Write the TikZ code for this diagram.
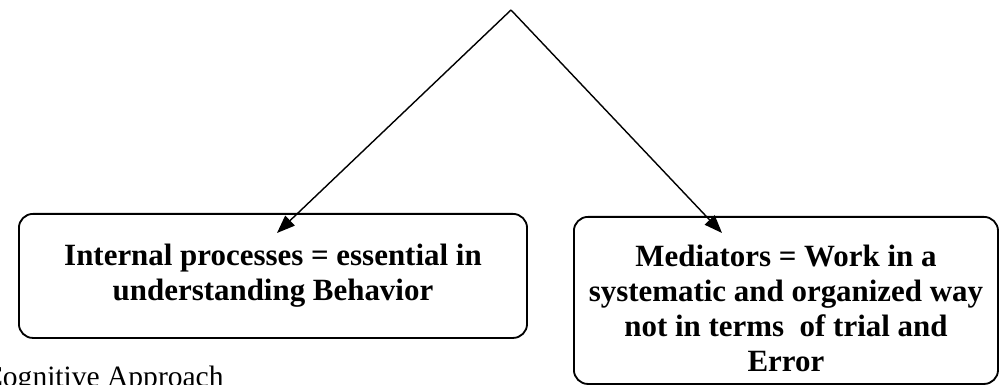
\documentclass[tikz,border=0pt]{standalone}
\usepackage{fontspec}
\setmainfont{Liberation Serif}
\usetikzlibrary{positioning, arrows.meta}

\begin{document}
\begin{tikzpicture}[
        x=0.025cm, y=-0.025cm,
        idea/.style={rectangle, draw=black, line width=1.3pt, rounded corners=0.35cm, align=center, font=\fontsize{22}{25}\selectfont\bfseries, inner sep=0pt},
        arrow/.style={-{Triangle[length=0.45cm, width=0.34cm]}, line width=1pt, black}
    ]
        \useasboundingbox (0,0) rectangle (1000,385);
        % Boxes
        \node[idea, minimum width=12.7cm, minimum height=3.1cm, anchor=north west] (internal) at (18,213) {Internal processes = essential in\\understanding Behavior};
        \node[idea, minimum width=10.6cm, minimum height=4.175cm, anchor=north west] (mediators) at (573,216) {\rule{0pt}{27pt}Mediators = Work in a\\systematic and organized way\\not in terms\ \ of trial and\\Error};

        % Arrows
        \coordinate (top) at (511,10);
        \coordinate (tipL) at (277,233);
        \coordinate (tipR) at (722,233);
        \draw[arrow] (top) -- (tipL);
        \draw[arrow] (top) -- (tipR);

        % Caption
        \node[anchor=base west, font=\fontsize{21}{25}\selectfont, inner sep=0pt] (caption) at (-17,387) {Cognitive Approach};
\end{tikzpicture}
\end{document}
